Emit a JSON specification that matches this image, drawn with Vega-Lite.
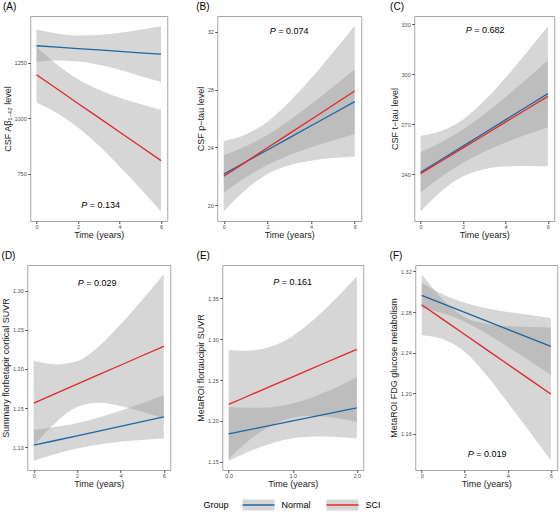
{
  "$schema": "https://vega.github.io/schema/vega-lite/v6.json",
  "padding": {"left": 1, "top": 1, "right": 2, "bottom": 0},
  "background": "white",
  "config": {
    "font": "Liberation Sans",
    "view": {"stroke": "#a6a6a6", "strokeWidth": 1},
    "axis": {"grid": false, "domain": false, "tickColor": "#4d4d4d", "tickSize": 2.5, "labelFontSize": 5.5, "labelColor": "#4d4d4d", "labelPadding": 1.5, "titleFontSize": 9, "titleFontWeight": "normal", "titleColor": "#1a1a1a", "titlePadding": 2},
    "axisX": {"titlePadding": 1, "labelPadding": 0.5},
    "title": {"fontSize": 10, "fontWeight": "normal", "anchor": "start", "frame": "bounds", "offset": 4, "color": "#000000"},
    "text": {"fontSize": 9, "color": "#000000"},
    "area": {"interpolate": "monotone"}
  },
  "datasets": {
    "A": [
      {"g": "Normal", "x": 0, "fit": 1326, "lo": 1253, "hi": 1399},
      {"g": "Normal", "x": 1, "fit": 1320, "lo": 1259, "hi": 1381},
      {"g": "Normal", "x": 2, "fit": 1313, "lo": 1255, "hi": 1372},
      {"g": "Normal", "x": 3, "fit": 1307, "lo": 1240, "hi": 1374},
      {"g": "Normal", "x": 4, "fit": 1301, "lo": 1218, "hi": 1384},
      {"g": "Normal", "x": 5, "fit": 1294, "lo": 1190, "hi": 1398},
      {"g": "Normal", "x": 6, "fit": 1288, "lo": 1162, "hi": 1414},
      {"g": "SCI", "x": 0, "fit": 1195, "lo": 1069, "hi": 1321},
      {"g": "SCI", "x": 1, "fit": 1131, "lo": 1022, "hi": 1240},
      {"g": "SCI", "x": 2, "fit": 1066, "lo": 957, "hi": 1175},
      {"g": "SCI", "x": 3, "fit": 1002, "lo": 876, "hi": 1128},
      {"g": "SCI", "x": 4, "fit": 937, "lo": 782, "hi": 1092},
      {"g": "SCI", "x": 5, "fit": 873, "lo": 683, "hi": 1063},
      {"g": "SCI", "x": 6, "fit": 808, "lo": 579, "hi": 1037}
    ],
    "B": [
      {"g": "Normal", "x": 0, "fit": 22.15, "lo": 20.85, "hi": 23.45},
      {"g": "Normal", "x": 1, "fit": 22.99, "lo": 21.91, "hi": 24.07},
      {"g": "Normal", "x": 2, "fit": 23.82, "lo": 22.78, "hi": 24.86},
      {"g": "Normal", "x": 3, "fit": 24.66, "lo": 23.46, "hi": 25.86},
      {"g": "Normal", "x": 4, "fit": 25.50, "lo": 24.01, "hi": 26.99},
      {"g": "Normal", "x": 5, "fit": 26.33, "lo": 24.48, "hi": 28.18},
      {"g": "Normal", "x": 6, "fit": 27.17, "lo": 24.92, "hi": 29.42},
      {"g": "SCI", "x": 0, "fit": 22.0, "lo": 19.57, "hi": 24.43},
      {"g": "SCI", "x": 1, "fit": 22.98, "lo": 21.07, "hi": 24.89},
      {"g": "SCI", "x": 2, "fit": 23.97, "lo": 22.16, "hi": 25.78},
      {"g": "SCI", "x": 3, "fit": 24.95, "lo": 22.77, "hi": 27.14},
      {"g": "SCI", "x": 4, "fit": 25.93, "lo": 23.08, "hi": 28.78},
      {"g": "SCI", "x": 5, "fit": 26.92, "lo": 23.26, "hi": 30.58},
      {"g": "SCI", "x": 6, "fit": 27.9, "lo": 23.37, "hi": 32.43}
    ],
    "C": [
      {"g": "Normal", "x": 0, "fit": 241.2, "lo": 229.1, "hi": 253.3},
      {"g": "Normal", "x": 1, "fit": 249.07, "lo": 238.74, "hi": 259.4},
      {"g": "Normal", "x": 2, "fit": 256.93, "lo": 246.92, "hi": 266.94},
      {"g": "Normal", "x": 3, "fit": 264.8, "lo": 253.55, "hi": 276.05},
      {"g": "Normal", "x": 4, "fit": 272.67, "lo": 259.03, "hi": 286.31},
      {"g": "Normal", "x": 5, "fit": 280.53, "lo": 263.84, "hi": 297.22},
      {"g": "Normal", "x": 6, "fit": 288.4, "lo": 268.3, "hi": 308.5},
      {"g": "SCI", "x": 0, "fit": 240.4, "lo": 217.7, "hi": 263.1},
      {"g": "SCI", "x": 1, "fit": 248.13, "lo": 230.15, "hi": 266.11},
      {"g": "SCI", "x": 2, "fit": 255.87, "lo": 238.81, "hi": 272.93},
      {"g": "SCI", "x": 3, "fit": 263.6, "lo": 243.12, "hi": 284.08},
      {"g": "SCI", "x": 4, "fit": 271.33, "lo": 244.73, "hi": 297.93},
      {"g": "SCI", "x": 5, "fit": 279.07, "lo": 245.07, "hi": 313.07},
      {"g": "SCI", "x": 6, "fit": 286.8, "lo": 244.8, "hi": 328.8}
    ],
    "D": [
      {"g": "Normal", "x": 0, "fit": 1.1025, "lo": 1.0827, "hi": 1.1223},
      {"g": "Normal", "x": 1, "fit": 1.1085, "lo": 1.0912, "hi": 1.1258},
      {"g": "Normal", "x": 2, "fit": 1.1145, "lo": 1.0982, "hi": 1.1308},
      {"g": "Normal", "x": 3, "fit": 1.1206, "lo": 1.1033, "hi": 1.1379},
      {"g": "Normal", "x": 4, "fit": 1.1266, "lo": 1.1068, "hi": 1.1464},
      {"g": "Normal", "x": 5, "fit": 1.1326, "lo": 1.1092, "hi": 1.1560},
      {"g": "Normal", "x": 6, "fit": 1.1386, "lo": 1.1109, "hi": 1.1663},
      {"g": "SCI", "x": 0, "fit": 1.1563, "lo": 1.1023, "hi": 1.2103},
      {"g": "SCI", "x": 1, "fit": 1.1684, "lo": 1.1310, "hi": 1.2058},
      {"g": "SCI", "x": 2, "fit": 1.1805, "lo": 1.1512, "hi": 1.2098},
      {"g": "SCI", "x": 3, "fit": 1.1926, "lo": 1.1566, "hi": 1.2286},
      {"g": "SCI", "x": 4, "fit": 1.2047, "lo": 1.1527, "hi": 1.2567},
      {"g": "SCI", "x": 5, "fit": 1.2168, "lo": 1.1454, "hi": 1.2882},
      {"g": "SCI", "x": 6, "fit": 1.2289, "lo": 1.1369, "hi": 1.3209}
    ],
    "E": [
      {"g": "Normal", "x": 0, "fit": 1.1841, "lo": 1.1511, "hi": 1.2171},
      {"g": "Normal", "x": 0.25, "fit": 1.1881, "lo": 1.1601, "hi": 1.2161},
      {"g": "Normal", "x": 0.5, "fit": 1.1921, "lo": 1.1681, "hi": 1.2161},
      {"g": "Normal", "x": 0.75, "fit": 1.1961, "lo": 1.1745, "hi": 1.2177},
      {"g": "Normal", "x": 1.0, "fit": 1.2001, "lo": 1.1788, "hi": 1.2214},
      {"g": "Normal", "x": 1.25, "fit": 1.2040, "lo": 1.1807, "hi": 1.2273},
      {"g": "Normal", "x": 1.5, "fit": 1.2080, "lo": 1.1809, "hi": 1.2351},
      {"g": "Normal", "x": 1.75, "fit": 1.2120, "lo": 1.1801, "hi": 1.2439},
      {"g": "Normal", "x": 2.0, "fit": 1.2160, "lo": 1.1785, "hi": 1.2535},
      {"g": "SCI", "x": 0, "fit": 1.2204, "lo": 1.1539, "hi": 1.2869},
      {"g": "SCI", "x": 0.25, "fit": 1.2288, "lo": 1.1717, "hi": 1.2859},
      {"g": "SCI", "x": 0.5, "fit": 1.2373, "lo": 1.1868, "hi": 1.2878},
      {"g": "SCI", "x": 0.75, "fit": 1.2457, "lo": 1.1977, "hi": 1.2937},
      {"g": "SCI", "x": 1.0, "fit": 1.2541, "lo": 1.2040, "hi": 1.3042},
      {"g": "SCI", "x": 1.25, "fit": 1.2626, "lo": 1.2062, "hi": 1.3190},
      {"g": "SCI", "x": 1.5, "fit": 1.2710, "lo": 1.2054, "hi": 1.3366},
      {"g": "SCI", "x": 1.75, "fit": 1.2794, "lo": 1.2027, "hi": 1.3561},
      {"g": "SCI", "x": 2.0, "fit": 1.2878, "lo": 1.1988, "hi": 1.3768}
    ],
    "F": [
      {"g": "Normal", "x": 0, "fit": 1.2965, "lo": 1.2840, "hi": 1.3090},
      {"g": "Normal", "x": 1, "fit": 1.2881, "lo": 1.2788, "hi": 1.2974},
      {"g": "Normal", "x": 2, "fit": 1.2798, "lo": 1.2705, "hi": 1.2891},
      {"g": "Normal", "x": 3, "fit": 1.2714, "lo": 1.2589, "hi": 1.2839},
      {"g": "Normal", "x": 4, "fit": 1.2630, "lo": 1.2458, "hi": 1.2802},
      {"g": "Normal", "x": 5, "fit": 1.2547, "lo": 1.2322, "hi": 1.2772},
      {"g": "Normal", "x": 6, "fit": 1.2463, "lo": 1.2183, "hi": 1.2743},
      {"g": "SCI", "x": 0, "fit": 1.2872, "lo": 1.2572, "hi": 1.3172},
      {"g": "SCI", "x": 1, "fit": 1.2726, "lo": 1.2532, "hi": 1.2920},
      {"g": "SCI", "x": 2, "fit": 1.2579, "lo": 1.2409, "hi": 1.2749},
      {"g": "SCI", "x": 3, "fit": 1.2433, "lo": 1.2180, "hi": 1.2686},
      {"g": "SCI", "x": 4, "fit": 1.2286, "lo": 1.1909, "hi": 1.2663},
      {"g": "SCI", "x": 5, "fit": 1.2140, "lo": 1.1626, "hi": 1.2654},
      {"g": "SCI", "x": 6, "fit": 1.1993, "lo": 1.1337, "hi": 1.2649}
    ]
  },
  "vconcat": [
    {
      "hconcat": [
        {
          "title": "(A)", "width": 137, "height": 205,
          "layer": [
            {"data": {"name": "A"}, "mark": {"type": "area", "color": "#999999", "opacity": 0.4},
             "encoding": {
               "x": {"field": "x", "type": "quantitative", "scale": {"domain": [-0.3, 6.3], "nice": false, "zero": false}, "axis": {"values": [0, 2, 4, 6], "title": "Time (years)"}},
               "y": {"field": "lo", "type": "quantitative", "scale": {"domain": [536, 1460], "nice": false, "zero": false}, "axis": {"values": [750, 1000, 1250], "format": "d", "title": "CSF Aβ₁₋₄₂ level"}},
               "y2": {"field": "hi"}, "detail": {"field": "g"}}},
            {"data": {"name": "A"}, "mark": {"type": "line", "strokeWidth": 1.3},
             "encoding": {
               "x": {"field": "x", "type": "quantitative", "title": "Time (years)"},
               "y": {"field": "fit", "type": "quantitative", "title": "CSF Aβ₁₋₄₂ level"},
               "color": {"field": "g", "type": "nominal", "scale": {"domain": ["Normal", "SCI"], "range": ["#1f65a0", "#e0272b"]}, "legend": null}}},
            {"data": {"values": [{}]}, "mark": {"type": "text", "text": "P", "fontStyle": "italic", "align": "right", "dx": -13.5},
             "encoding": {"x": {"datum": 3.1, "type": "quantitative"}, "y": {"datum": 610, "type": "quantitative"}}},
            {"data": {"values": [{}]}, "mark": {"type": "text", "text": "= 0.134", "align": "left", "dx": -11},
             "encoding": {"x": {"datum": 3.1, "type": "quantitative"}, "y": {"datum": 610, "type": "quantitative"}}}
          ]
        },
        {
          "title": "(B)", "width": 144, "height": 205,
          "layer": [
            {"data": {"name": "B"}, "mark": {"type": "area", "color": "#999999", "opacity": 0.4},
             "encoding": {
               "x": {"field": "x", "type": "quantitative", "scale": {"domain": [-0.3, 6.3], "nice": false, "zero": false}, "axis": {"values": [0, 2, 4, 6], "title": "Time (years)"}},
               "y": {"field": "lo", "type": "quantitative", "scale": {"domain": [18.9, 33.1], "nice": false, "zero": false}, "axis": {"values": [20, 24, 28, 32], "title": "CSF p−tau level"}},
               "y2": {"field": "hi"}, "detail": {"field": "g"}}},
            {"data": {"name": "B"}, "mark": {"type": "line", "strokeWidth": 1.3},
             "encoding": {
               "x": {"field": "x", "type": "quantitative", "title": "Time (years)"},
               "y": {"field": "fit", "type": "quantitative", "title": "CSF p−tau level"},
               "color": {"field": "g", "type": "nominal", "legend": null}}},
            {"data": {"values": [{}]}, "mark": {"type": "text", "text": "P", "fontStyle": "italic", "align": "right", "dx": -13.5},
             "encoding": {"x": {"datum": 3, "type": "quantitative"}, "y": {"datum": 32.05, "type": "quantitative"}}},
            {"data": {"values": [{}]}, "mark": {"type": "text", "text": "= 0.074", "align": "left", "dx": -11},
             "encoding": {"x": {"datum": 3, "type": "quantitative"}, "y": {"datum": 32.05, "type": "quantitative"}}}
          ]
        },
        {
          "title": "(C)", "width": 140, "height": 205,
          "layer": [
            {"data": {"name": "C"}, "mark": {"type": "area", "color": "#999999", "opacity": 0.4},
             "encoding": {
               "x": {"field": "x", "type": "quantitative", "scale": {"domain": [-0.3, 6.3], "nice": false, "zero": false}, "axis": {"values": [0, 2, 4, 6], "title": "Time (years)"}},
               "y": {"field": "lo", "type": "quantitative", "scale": {"domain": [212, 335], "nice": false, "zero": false}, "axis": {"values": [240, 270, 300, 330], "title": "CSF t−tau level"}},
               "y2": {"field": "hi"}, "detail": {"field": "g"}}},
            {"data": {"name": "C"}, "mark": {"type": "line", "strokeWidth": 1.3},
             "encoding": {
               "x": {"field": "x", "type": "quantitative", "title": "Time (years)"},
               "y": {"field": "fit", "type": "quantitative", "title": "CSF t−tau level"},
               "color": {"field": "g", "type": "nominal", "legend": null}}},
            {"data": {"values": [{}]}, "mark": {"type": "text", "text": "P", "fontStyle": "italic", "align": "right", "dx": -13.5},
             "encoding": {"x": {"datum": 3.05, "type": "quantitative"}, "y": {"datum": 326.4, "type": "quantitative"}}},
            {"data": {"values": [{}]}, "mark": {"type": "text", "text": "= 0.682", "align": "left", "dx": -11},
             "encoding": {"x": {"datum": 3.05, "type": "quantitative"}, "y": {"datum": 326.4, "type": "quantitative"}}}
          ]
        }
      ],
      "spacing": 27
    },
    {
      "hconcat": [
        {
          "title": "(D)", "width": 143, "height": 205,
          "layer": [
            {"data": {"name": "D"}, "mark": {"type": "area", "color": "#999999", "opacity": 0.4},
             "encoding": {
               "x": {"field": "x", "type": "quantitative", "scale": {"domain": [-0.3, 6.3], "nice": false, "zero": false}, "axis": {"values": [0, 2, 4, 6], "title": "Time (years)"}},
               "y": {"field": "lo", "type": "quantitative", "scale": {"domain": [1.0708, 1.3328], "nice": false, "zero": false}, "axis": {"values": [1.10, 1.15, 1.20, 1.25, 1.30], "format": ".2f", "title": "Summary florbetapir cortical SUVR"}},
               "y2": {"field": "hi"}, "detail": {"field": "g"}}},
            {"data": {"name": "D"}, "mark": {"type": "line", "strokeWidth": 1.3},
             "encoding": {
               "x": {"field": "x", "type": "quantitative", "title": "Time (years)"},
               "y": {"field": "fit", "type": "quantitative", "title": "Summary florbetapir cortical SUVR"},
               "color": {"field": "g", "type": "nominal", "legend": null}}},
            {"data": {"values": [{}]}, "mark": {"type": "text", "text": "P", "fontStyle": "italic", "align": "right", "dx": -13.5},
             "encoding": {"x": {"datum": 2.93, "type": "quantitative"}, "y": {"datum": 1.3097, "type": "quantitative"}}},
            {"data": {"values": [{}]}, "mark": {"type": "text", "text": "= 0.029", "align": "left", "dx": -11},
             "encoding": {"x": {"datum": 2.93, "type": "quantitative"}, "y": {"datum": 1.3097, "type": "quantitative"}}}
          ]
        },
        {
          "title": "(E)", "width": 141, "height": 205,
          "layer": [
            {"data": {"name": "E"}, "mark": {"type": "area", "color": "#999999", "opacity": 0.4},
             "encoding": {
               "x": {"field": "x", "type": "quantitative", "scale": {"domain": [-0.1, 2.1], "nice": false, "zero": false}, "axis": {"values": [0, 0.5, 1, 1.5, 2], "format": ".1f", "title": "Time (years)"}},
               "y": {"field": "lo", "type": "quantitative", "scale": {"domain": [1.140, 1.391], "nice": false, "zero": false}, "axis": {"values": [1.15, 1.20, 1.25, 1.30, 1.35], "format": ".2f", "title": "MetaROI flortaucipir SUVR"}},
               "y2": {"field": "hi"}, "detail": {"field": "g"}}},
            {"data": {"name": "E"}, "mark": {"type": "line", "strokeWidth": 1.3},
             "encoding": {
               "x": {"field": "x", "type": "quantitative", "title": "Time (years)"},
               "y": {"field": "fit", "type": "quantitative", "title": "MetaROI flortaucipir SUVR"},
               "color": {"field": "g", "type": "nominal", "legend": null}}},
            {"data": {"values": [{}]}, "mark": {"type": "text", "text": "P", "fontStyle": "italic", "align": "right", "dx": -13.5},
             "encoding": {"x": {"datum": 1.0, "type": "quantitative"}, "y": {"datum": 1.3704, "type": "quantitative"}}},
            {"data": {"values": [{}]}, "mark": {"type": "text", "text": "= 0.161", "align": "left", "dx": -11},
             "encoding": {"x": {"datum": 1.0, "type": "quantitative"}, "y": {"datum": 1.3704, "type": "quantitative"}}}
          ]
        },
        {
          "title": "(F)", "width": 142, "height": 205,
          "layer": [
            {"data": {"name": "F"}, "mark": {"type": "area", "color": "#999999", "opacity": 0.4},
             "encoding": {
               "x": {"field": "x", "type": "quantitative", "scale": {"domain": [-0.3, 6.3], "nice": false, "zero": false}, "axis": {"values": [0, 2, 4, 6], "title": "Time (years)"}},
               "y": {"field": "lo", "type": "quantitative", "scale": {"domain": [1.1245, 1.3264], "nice": false, "zero": false}, "axis": {"values": [1.16, 1.20, 1.24, 1.28, 1.32], "format": ".2f", "title": "MetaROI FDG glucose metabolism"}},
               "y2": {"field": "hi"}, "detail": {"field": "g"}}},
            {"data": {"name": "F"}, "mark": {"type": "line", "strokeWidth": 1.3},
             "encoding": {
               "x": {"field": "x", "type": "quantitative", "title": "Time (years)"},
               "y": {"field": "fit", "type": "quantitative", "title": "MetaROI FDG glucose metabolism"},
               "color": {"field": "g", "type": "nominal", "legend": null}}},
            {"data": {"values": [{}]}, "mark": {"type": "text", "text": "P", "fontStyle": "italic", "align": "right", "dx": -13.5},
             "encoding": {"x": {"datum": 3.05, "type": "quantitative"}, "y": {"datum": 1.1406, "type": "quantitative"}}},
            {"data": {"values": [{}]}, "mark": {"type": "text", "text": "= 0.019", "align": "left", "dx": -11},
             "encoding": {"x": {"datum": 3.05, "type": "quantitative"}, "y": {"datum": 1.1406, "type": "quantitative"}}}
          ]
        }
      ],
      "spacing": 24
    },
    {
      "width": 192, "height": 12,
      "view": {"stroke": null},
      "data": {"values": [{"g": "Normal"}, {"g": "SCI"}]},
      "layer": [
        {"mark": {"type": "point", "shape": "M-1,-0.34H1V0.34H-1Z", "filled": true, "color": "#d6d6d6", "size": 1024, "opacity": 1},
         "encoding": {"x": {"field": "g", "type": "nominal", "scale": {"type": "point", "padding": 0.643, "align": 0.574}, "axis": null}}},
        {"mark": {"type": "point", "shape": "stroke", "size": 1024, "strokeWidth": 1.5, "opacity": 1},
         "encoding": {"x": {"field": "g", "type": "nominal", "axis": null}, "color": {"field": "g", "type": "nominal", "legend": null}}},
        {"mark": {"type": "text", "align": "left", "dx": 23},
         "encoding": {"x": {"field": "g", "type": "nominal", "axis": null}, "text": {"field": "g"}}},
        {"data": {"values": [{}]}, "mark": {"type": "text", "text": "Group", "align": "right", "dx": -30},
         "encoding": {"x": {"datum": "Normal", "type": "nominal", "axis": null}}}
      ]
    }
  ],
  "spacing": 10,
  "center": true
}
